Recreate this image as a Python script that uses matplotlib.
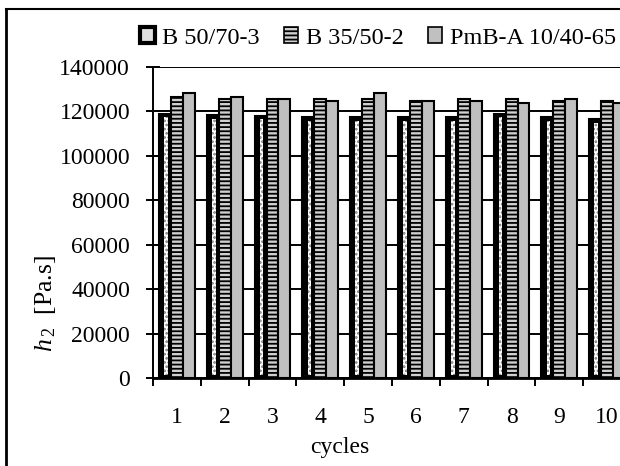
import numpy as np
import matplotlib.pyplot as plt
from matplotlib.patches import Patch
from matplotlib.lines import Line2D

plt.rcParams['font.family'] = ['Liberation Serif', 'DejaVu Serif']
plt.rcParams['mathtext.fontset'] = 'custom'
plt.rcParams['mathtext.rm'] = 'Liberation Serif'
plt.rcParams['mathtext.it'] = 'Liberation Serif:italic'
plt.rcParams['hatch.linewidth'] = 1.3

cycles = ['1', '2', '3', '4', '5', '6', '7', '8', '9', '10']
b50 = [118700, 118200, 118000, 117300, 117300, 117300, 117300, 119000, 117300, 116400]
b35 = [126300, 125600, 125500, 125500, 125500, 124800, 125500, 125500, 124700, 124700]
pmb = [128200, 126500, 125500, 124700, 128300, 124700, 124800, 123600, 125500, 123600]
names = ['B 50/70-3', 'B 35/50-2', 'PmB-A 10/40-65']

yticks = np.arange(0, 140001, 20000)
fs = 17

fig = plt.figure(figsize=(6.2, 4.66), dpi=100)
# plot area runs a little past the right edge of the page
ax = fig.add_axes([0.2468, 0.1888, 0.7710, 0.6674])

x = np.arange(len(cycles))
w = 0.25

# first series: black bar with a dotted white core
ax.bar(x - w, b50, w, color='black', edgecolor='black', linewidth=1.5, zorder=3)
pad = 1400
ax.bar(x - w + 0.02, np.array(b50) - 2 * pad, w * 0.3, bottom=pad, color='white',
       edgecolor='#777777', hatch='....', linewidth=0, zorder=4)
# second series: horizontal stripes
ax.bar(x, b35, w, color='#d0d0d0', edgecolor='black', hatch='----', linewidth=1.5, zorder=3)
# third series: plain grey
ax.bar(x + w, pmb, w, color='#c0c0c0', edgecolor='black', linewidth=1.5, zorder=3)

ax.set_xlim(-0.5, len(cycles) - 0.5)
ax.set_ylim(0, 140000)
ax.set_yticks(yticks)
ax.set_yticklabels([str(v) for v in yticks], fontsize=fs)
ax.yaxis.grid(True, color='black', linewidth=1.4, zorder=1)
ax.set_axisbelow(True)

# category labels centred, tick marks between categories
ax.set_xticks(np.arange(-0.5, len(cycles), 1.0))
ax.set_xticklabels([])
ax.set_xticks(x, minor=True)
ax.set_xticklabels(cycles, minor=True, fontsize=fs)
ax.tick_params(axis='x', which='major', direction='out', length=6, width=1.4)
ax.tick_params(axis='x', which='minor', length=0, pad=21)
ax.tick_params(axis='y', direction='inout', length=10, width=1.4, pad=11.5)

for s in ['top', 'right']:
    ax.spines[s].set_visible(False)
ax.spines['left'].set_linewidth(1.4)
ax.spines['bottom'].set_linewidth(2)

fig.text(340 / 620, 1 - 447 / 466, 'cycles', ha='center', va='center', fontsize=fs)
fig.text(46 / 620, 1 - 304 / 466, r'$h_{\,\mathrm{2}}$  [Pa.s]', rotation=90,
         ha='center', va='center', fontsize=18.5)

handles = [Patch(facecolor='#e0e0e0', edgecolor='black', linewidth=3),
           Patch(facecolor='#d0d0d0', edgecolor='black', hatch='----', linewidth=1.2),
           Patch(facecolor='#c0c0c0', edgecolor='black', linewidth=1.2)]
fig.legend(handles, names, loc='center left', bbox_to_anchor=(140 / 620, 1 - 38 / 466),
           ncol=3, frameon=False, fontsize=17.5, handlelength=0.6, handleheight=0.6,
           handletextpad=0.3, columnspacing=1.0, borderaxespad=0, borderpad=0)

# page border
fig.add_artist(Line2D([6 / 620, 6 / 620], [0, 1 - 8.5 / 466], color='black', linewidth=2))
fig.add_artist(Line2D([6 / 620, 1], [1 - 8.5 / 466, 1 - 8.5 / 466], color='black', linewidth=1.5))

plt.savefig('out.png', dpi=100)
